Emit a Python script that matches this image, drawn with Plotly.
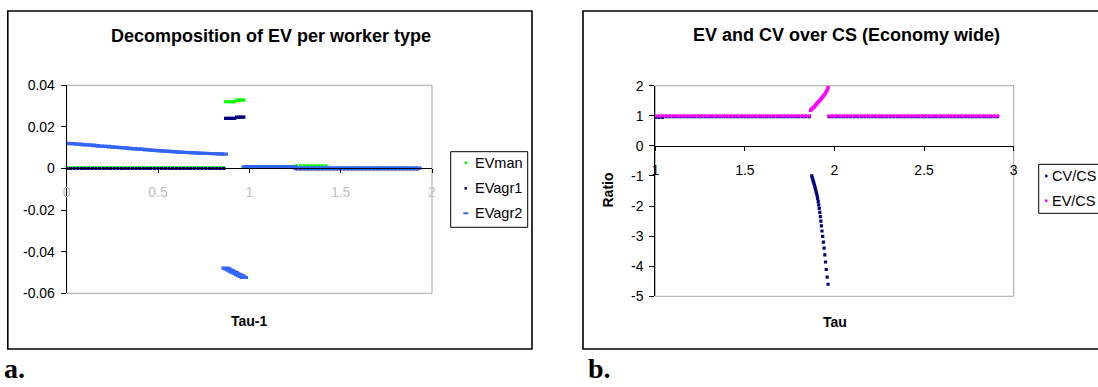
import plotly.graph_objects as go

W, H = 1098, 387

# ---------------- Panel a: Decomposition of EV per worker type (x = Tau-1) ----------------
TAU1_LOW = [0.00, 0.02, 0.04, 0.06, 0.08, 0.10, 0.12, 0.14, 0.16, 0.18, 0.20,
            0.22, 0.24, 0.26, 0.28, 0.30, 0.32, 0.34, 0.36, 0.38, 0.40, 0.42,
            0.44, 0.46, 0.48, 0.50, 0.52, 0.54, 0.56, 0.58, 0.60, 0.62, 0.64,
            0.66, 0.68, 0.70, 0.72, 0.74, 0.76, 0.78, 0.80, 0.82, 0.84, 0.86]
TAU1_MID = [0.87, 0.88, 0.89, 0.90, 0.91, 0.92, 0.93, 0.94, 0.95, 0.96, 0.97]
TAU1_HIGH = [0.98, 1.00, 1.02, 1.04, 1.06, 1.08, 1.10, 1.12, 1.14, 1.16, 1.18, 1.20, 1.22, 1.24,
             1.26, 1.28, 1.30, 1.32, 1.34, 1.36, 1.38, 1.40, 1.42,
             1.44, 1.46, 1.48, 1.50, 1.52, 1.54, 1.56, 1.58, 1.60, 1.62, 1.64, 1.66, 1.68,
             1.70, 1.72, 1.74, 1.76, 1.78, 1.80, 1.82, 1.84, 1.86, 1.88, 1.90, 1.92]

EVMAN_LOW = [0.0003, 0.0003, 0.0003, 0.0003, 0.0003, 0.0003, 0.0003, 0.0003, 0.0003, 0.0003, 0.0003,
             0.0003, 0.0003, 0.0003, 0.0003, 0.0003, 0.0003, 0.0003, 0.0003, 0.0003, 0.0003, 0.0003,
             0.0003, 0.0003, 0.0003, 0.0003, 0.0003, 0.0003, 0.0003, 0.0003, 0.0003, 0.0003, 0.0003,
             0.0003, 0.0003, 0.0003, 0.0003, 0.0003, 0.0003, 0.0003, 0.0003, 0.0003, 0.0003, 0.0003]
EVMAN_MID = [0.0321, 0.0321, 0.0321, 0.0321, 0.0321, 0.0321, 0.0329, 0.0329, 0.0329, 0.0329, 0.0329]
EVMAN_HIGH = [0.0009, 0.0009, 0.0009, 0.0009, 0.0009, 0.0009, 0.0009, 0.0009, 0.0009, 0.0009, 0.0009, 0.0009, 0.0009, 0.0009,
              0.0013, 0.0013, 0.0013, 0.0013, 0.0013, 0.0013, 0.0013, 0.0013, 0.0013,
              0.0002, 0.0002, 0.0002, 0.0002, 0.0002, 0.0002, 0.0002, 0.0002, 0.0002, 0.0002, 0.0002, 0.0002, 0.0002,
              0.0002, 0.0002, 0.0002, 0.0002, 0.0002, 0.0002, 0.0002, 0.0002, 0.0002, 0.0002, 0.0002, 0.0002]

EVAGR1_LOW = [0.0, 0.0, 0.0, 0.0, 0.0, 0.0, 0.0, 0.0, 0.0, 0.0, 0.0,
              0.0, 0.0, 0.0, 0.0, 0.0, 0.0, 0.0, 0.0, 0.0, 0.0, 0.0,
              0.0, 0.0, 0.0, 0.0, 0.0, 0.0, 0.0, 0.0, 0.0, 0.0, 0.0,
              0.0, 0.0, 0.0, 0.0, 0.0, 0.0, 0.0, 0.0, 0.0, 0.0, 0.0]
EVAGR1_MID = [0.0241, 0.0241, 0.0241, 0.0241, 0.0241, 0.0241, 0.0247, 0.0247, 0.0247, 0.0247, 0.0247]
EVAGR1_HIGH = [0.0007, 0.0007, 0.0007, 0.0007, 0.0007, 0.0007, 0.0007, 0.0007, 0.0007, 0.0007, 0.0007, 0.0007, 0.0007, 0.0007,
               -0.0002, -0.0002, -0.0002, -0.0002, -0.0002, -0.0002, -0.0002, -0.0002, -0.0002,
               -0.0002, -0.0002, -0.0002, -0.0002, -0.0002, -0.0002, -0.0002, -0.0002, -0.0002, -0.0002, -0.0002, -0.0002, -0.0002,
               -0.0002, -0.0002, -0.0002, -0.0002, -0.0002, -0.0002, -0.0002, -0.0002, -0.0002, -0.0002, -0.0002, -0.0002]

EVAGR2_LOW = [0.0121, 0.0120, 0.0119, 0.0117, 0.0116, 0.0114, 0.0113, 0.0112, 0.0110, 0.0108, 0.0107,
              0.0106, 0.0104, 0.0103, 0.0102, 0.0100, 0.0099, 0.0097, 0.0096, 0.0094, 0.0093, 0.0092,
              0.0090, 0.0089, 0.0087, 0.0086, 0.0085, 0.0084, 0.0082, 0.0081, 0.0080, 0.0079, 0.0078,
              0.0077, 0.0076, 0.0075, 0.0074, 0.0073, 0.0073, 0.0072, 0.0071, 0.0071, 0.0070, 0.0069]
EVAGR2_MID = [-0.0479, -0.0483, -0.0488, -0.0492, -0.0497, -0.0501, -0.0506, -0.0510, -0.0515, -0.0519, -0.0524]
EVAGR2_HIGH = [0.0008, 0.0008, 0.0008, 0.0008, 0.0008, 0.0008, 0.0008, 0.0008, 0.0008, 0.0008, 0.0008, 0.0008, 0.0008, 0.0008,
               0.0002, 0.0002, 0.0002, 0.0002, 0.0002, 0.0002, 0.0002, 0.0002, 0.0002,
               0.0002, 0.0002, 0.0002, 0.0002, 0.0002, 0.0002, 0.0002, 0.0002, 0.0002, 0.0002, 0.0002, 0.0002, 0.0002,
               0.0002, 0.0002, 0.0002, 0.0002, 0.0002, 0.0002, 0.0002, 0.0002, 0.0002, 0.0002, 0.0002, 0.0002]

A_SERIES = ["EVman", "EVagr1", "EVagr2"]
A_COLORS = ["#00ff00", "#000080", "#3366ff"]
A_XTICKS = [0, 0.5, 1, 1.5, 2]
A_XTICKTEXT = ["0", "0.5", "1", "1.5", "2"]
A_YTICKS = [-0.06, -0.04, -0.02, 0, 0.02, 0.04]
A_YTICKTEXT = ["-0.06", "-0.04", "-0.02", "0", "0.02", "0.04"]

# ---------------- Panel b: EV and CV over CS (x = Tau) ----------------
TAU_LOW = [1.00, 1.02, 1.04, 1.06, 1.08, 1.10, 1.12, 1.14, 1.16, 1.18, 1.20,
           1.22, 1.24, 1.26, 1.28, 1.30, 1.32, 1.34, 1.36, 1.38, 1.40, 1.42,
           1.44, 1.46, 1.48, 1.50, 1.52, 1.54, 1.56, 1.58, 1.60, 1.62, 1.64,
           1.66, 1.68, 1.70, 1.72, 1.74, 1.76, 1.78, 1.80, 1.82, 1.84, 1.86]
TAU_HIGH = [1.97, 1.99, 2.01, 2.03, 2.05, 2.07, 2.09, 2.11, 2.13, 2.15, 2.17, 2.19,
            2.21, 2.23, 2.25, 2.27, 2.29, 2.31, 2.33, 2.35, 2.37, 2.39, 2.41, 2.43,
            2.45, 2.47, 2.49, 2.51, 2.53, 2.55, 2.57, 2.59, 2.61, 2.63, 2.65, 2.67,
            2.69, 2.71, 2.73, 2.75, 2.77, 2.79, 2.81, 2.83, 2.85, 2.87, 2.89, 2.91]

CV_LOW = [0.95, 0.95, 0.95, 0.97, 0.97, 0.97, 0.97, 0.97, 0.97, 0.97, 0.97,
          0.97, 0.97, 0.97, 0.97, 0.97, 0.97, 0.97, 0.97, 0.97, 0.97, 0.97,
          0.97, 0.97, 0.97, 0.97, 0.97, 0.97, 0.97, 0.97, 0.97, 0.97, 0.97,
          0.97, 0.97, 0.97, 0.97, 0.97, 0.97, 0.97, 0.97, 0.97, 0.97, 0.97]
CV_HIGH = [0.97, 0.97, 0.97, 0.97, 0.97, 0.97, 0.97, 0.97, 0.97, 0.97, 0.97, 0.97,
           0.97, 0.97, 0.97, 0.97, 0.97, 0.97, 0.97, 0.97, 0.97, 0.97, 0.97, 0.97,
           0.97, 0.97, 0.97, 0.97, 0.97, 0.97, 0.97, 0.97, 0.97, 0.97, 0.97, 0.97,
           0.97, 0.97, 0.97, 0.97, 0.97, 0.97, 0.97, 0.97, 0.97, 0.97, 0.97, 0.97]
CV_CURVE_TAU = [1.873, 1.876, 1.879, 1.882, 1.885, 1.888, 1.891, 1.894, 1.897, 1.900,
                1.903, 1.906, 1.909, 1.912, 1.915, 1.918, 1.921, 1.924, 1.927, 1.930,
                1.934, 1.938, 1.942, 1.946, 1.950, 1.954, 1.959, 1.964]
CV_CURVE = [-1.00, -1.06, -1.12, -1.18, -1.24, -1.30, -1.37, -1.44, -1.51, -1.58,
            -1.66, -1.75, -1.85, -1.96, -2.08, -2.21, -2.35, -2.50, -2.66, -2.83,
            -3.01, -3.20, -3.40, -3.62, -3.86, -4.11, -4.36, -4.60]

EV_LOW = [1.0, 1.0, 1.0, 1.0, 1.0, 1.0, 1.0, 1.0, 1.0, 1.0, 1.0,
          1.0, 1.0, 1.0, 1.0, 1.0, 1.0, 1.0, 1.0, 1.0, 1.0, 1.0,
          1.0, 1.0, 1.0, 1.0, 1.0, 1.0, 1.0, 1.0, 1.0, 1.0, 1.0,
          1.0, 1.0, 1.0, 1.0, 1.0, 1.0, 1.0, 1.0, 1.0, 1.0, 1.0]
EV_HIGH = [1.0, 1.0, 1.0, 1.0, 1.0, 1.0, 1.0, 1.0, 1.0, 1.0, 1.0, 1.0,
           1.0, 1.0, 1.0, 1.0, 1.0, 1.0, 1.0, 1.0, 1.0, 1.0, 1.0, 1.0,
           1.0, 1.0, 1.0, 1.0, 1.0, 1.0, 1.0, 1.0, 1.0, 1.0, 1.0, 1.0,
           1.0, 1.0, 1.0, 1.0, 1.0, 1.0, 1.0, 1.0, 1.0, 1.0, 1.0, 1.0]
EV_CURVE_TAU = [1.866, 1.870, 1.874, 1.878, 1.882, 1.886, 1.890, 1.894, 1.898, 1.902,
                1.906, 1.910, 1.914, 1.918, 1.922, 1.926, 1.930, 1.934, 1.938, 1.942,
                1.946, 1.950, 1.954, 1.958, 1.962, 1.965]
EV_CURVE = [1.18, 1.21, 1.23, 1.25, 1.27, 1.29, 1.32, 1.35, 1.38, 1.41,
            1.44, 1.46, 1.48, 1.51, 1.54, 1.57, 1.60, 1.63, 1.66, 1.69,
            1.72, 1.76, 1.80, 1.85, 1.90, 1.95]

B_SERIES = ["CV/CS", "EV/CS"]
B_COLORS = ["#000080", "#ff00ff"]
B_XTICKS = [1, 1.5, 2, 2.5, 3]
B_XTICKTEXT = ["1", "1.5", "2", "2.5", "3"]
B_YTICKS = [-5, -4, -3, -2, -1, 0, 1, 2]
B_YTICKTEXT = ["-5", "-4", "-3", "-2", "-1", "0", "1", "2"]

FONT = "Liberation Sans, Arial, sans-serif"
SERIF = "Liberation Serif, Times New Roman, serif"


def px(x):
    return x / W


def py(y):
    return 1 - y / H


fig = go.Figure()

# Panel a traces
a_y = [EVMAN_LOW + EVMAN_MID + EVMAN_HIGH,
       EVAGR1_LOW + EVAGR1_MID + EVAGR1_HIGH,
       EVAGR2_LOW + EVAGR2_MID + EVAGR2_HIGH]
a_x = TAU1_LOW + TAU1_MID + TAU1_HIGH
for name, col, ys in zip(A_SERIES, A_COLORS, a_y):
    if name == "EVagr2":
        marker = dict(symbol="line-ew", size=6, color=col, line=dict(color=col, width=3.2))
    else:
        marker = dict(symbol="square", size=3.2, color=col, line=dict(width=0))
    fig.add_trace(go.Scatter(x=a_x, y=ys, mode="markers", name=name, marker=marker,
                             xaxis="x", yaxis="y", showlegend=False))

# Panel b traces
b_x = [TAU_LOW + CV_CURVE_TAU + TAU_HIGH, TAU_LOW + EV_CURVE_TAU + TAU_HIGH]
b_y = [CV_LOW + CV_CURVE + CV_HIGH, EV_LOW + EV_CURVE + EV_HIGH]
for name, col, xs, ys in zip(B_SERIES, B_COLORS, b_x, b_y):
    fig.add_trace(go.Scatter(x=xs, y=ys, mode="markers", name=name,
                             marker=dict(symbol="square", size=3.2, color=col, line=dict(width=0)),
                             xaxis="x2", yaxis="y2", showlegend=False))

axis_common = dict(showgrid=False, zeroline=False, showline=True, linecolor="#000000",
                   linewidth=1, ticks="outside", tickcolor="#000000", tickwidth=1)

fig.update_layout(
    width=W, height=H, margin=dict(l=0, r=0, t=0, b=0, autoexpand=False),
    paper_bgcolor="white", plot_bgcolor="white", showlegend=False,
    font=dict(family=FONT, size=14, color="#000000"),
    xaxis=dict(domain=[px(66.7), px(432)], range=[0, 2], anchor="free", position=py(168.3),
               tickvals=A_XTICKS, ticktext=A_XTICKTEXT, ticklen=4,
               tickfont=dict(family=FONT, size=14, color="#c0c0c0"),
               ticklabelstandoff=7, **axis_common),
    yaxis=dict(domain=[py(293.3), py(85.3)], range=[-0.06, 0.04], anchor="x",
               tickvals=A_YTICKS, ticktext=A_YTICKTEXT, ticklen=5,
               tickfont=dict(family=FONT, size=14, color="#000000"),
               ticklabelstandoff=3, **axis_common),
    xaxis2=dict(domain=[px(655.3), px(1013.7)], range=[1, 3], anchor="free", position=py(146.3),
                tickvals=B_XTICKS, ticktext=B_XTICKTEXT, ticklen=4,
                tickfont=dict(family=FONT, size=14, color="#000000"),
                ticklabelstandoff=7, **axis_common),
    yaxis2=dict(domain=[py(296.3), py(85.7)], range=[-5, 2], anchor="x2",
                tickvals=B_YTICKS, ticktext=B_YTICKTEXT, ticklen=5,
                tickfont=dict(family=FONT, size=14, color="#000000"),
                ticklabelstandoff=3, **axis_common),
)

shapes = []
# plot-area borders (grey)
for xr, yr in (("x domain", "y domain"), ("x2 domain", "y2 domain")):
    shapes.append(dict(type="rect", xref=xr, yref=yr, x0=0, x1=1, y0=0, y1=1,
                       line=dict(color="#a6a6a6", width=1), layer="below"))
# chart frames (black)
shapes.append(dict(type="rect", xref="paper", yref="paper", x0=px(7.8), x1=px(532), y0=py(349), y1=py(11),
                   line=dict(color="#000000", width=1.6)))
shapes.append(dict(type="rect", xref="paper", yref="paper", x0=px(583), x1=px(1120), y0=py(349), y1=py(11),
                   line=dict(color="#000000", width=1.6)))
# legend boxes
shapes.append(dict(type="rect", xref="paper", yref="paper", x0=px(450.7), x1=px(527.7), y0=py(227.3), y1=py(151.7),
                   line=dict(color="#000000", width=1), fillcolor="white"))
shapes.append(dict(type="rect", xref="paper", yref="paper", x0=px(1038.7), x1=px(1120), y0=py(213.3), y1=py(164.3),
                   line=dict(color="#000000", width=1), fillcolor="white"))

annotations = []
# legend entries
a_rows = [162.7, 188.3, 213.3]
for name, col, yrow in zip(A_SERIES, A_COLORS, a_rows):
    if name == "EVagr2":
        shapes.append(dict(type="rect", xref="paper", yref="paper", x0=px(463.3), x1=px(468.3),
                           y0=py(yrow + 1), y1=py(yrow - 1), line=dict(width=0), fillcolor=col))
    else:
        shapes.append(dict(type="rect", xref="paper", yref="paper", x0=px(464.5), x1=px(467),
                           y0=py(yrow + 1.25), y1=py(yrow - 1.25), line=dict(width=0), fillcolor=col))
    annotations.append(dict(text=name, x=px(473), y=py(yrow), xref="paper", yref="paper",
                            xanchor="left", yanchor="middle", showarrow=False,
                            font=dict(family=FONT, size=14.5, color="#000000")))
b_rows = [176, 200.7]
for name, col, yrow in zip(B_SERIES, B_COLORS, b_rows):
    shapes.append(dict(type="rect", xref="paper", yref="paper", x0=px(1045), x1=px(1047.5),
                       y0=py(yrow + 1.25), y1=py(yrow - 1.25), line=dict(width=0), fillcolor=col))
    annotations.append(dict(text=name, x=px(1050.3), y=py(yrow), xref="paper", yref="paper",
                            xanchor="left", yanchor="middle", showarrow=False,
                            font=dict(family=FONT, size=14.5, color="#000000")))

# titles and axis titles
annotations += [
    dict(text="<b>Decomposition of EV per worker type</b>", x=px(270.5), y=py(36), xref="paper", yref="paper",
         xanchor="center", yanchor="middle", showarrow=False, font=dict(family=FONT, size=18)),
    dict(text="<b>EV and CV over CS (Economy wide)</b>", x=px(846.7), y=py(35), xref="paper", yref="paper",
         xanchor="center", yanchor="middle", showarrow=False, font=dict(family=FONT, size=18)),
    dict(text="<b>Tau-1</b>", x=px(249.3), y=py(321), xref="paper", yref="paper",
         xanchor="center", yanchor="middle", showarrow=False, font=dict(family=FONT, size=14)),
    dict(text="<b>Tau</b>", x=px(834.5), y=py(322), xref="paper", yref="paper",
         xanchor="center", yanchor="middle", showarrow=False, font=dict(family=FONT, size=14)),
    dict(text="<b>Ratio</b>", x=px(607.5), y=py(190), xref="paper", yref="paper", textangle=-90,
         xanchor="center", yanchor="middle", showarrow=False, font=dict(family=FONT, size=14)),
    dict(text="<b>a.</b>", x=px(2.3), y=py(368.5), xref="paper", yref="paper",
         xanchor="left", yanchor="middle", showarrow=False, font=dict(family=SERIF, size=28)),
    dict(text="<b>b.</b>", x=px(585.7), y=py(368.5), xref="paper", yref="paper",
         xanchor="left", yanchor="middle", showarrow=False, font=dict(family=SERIF, size=28)),
]

fig.update_layout(shapes=shapes, annotations=annotations)
fig.write_html("out.html")
